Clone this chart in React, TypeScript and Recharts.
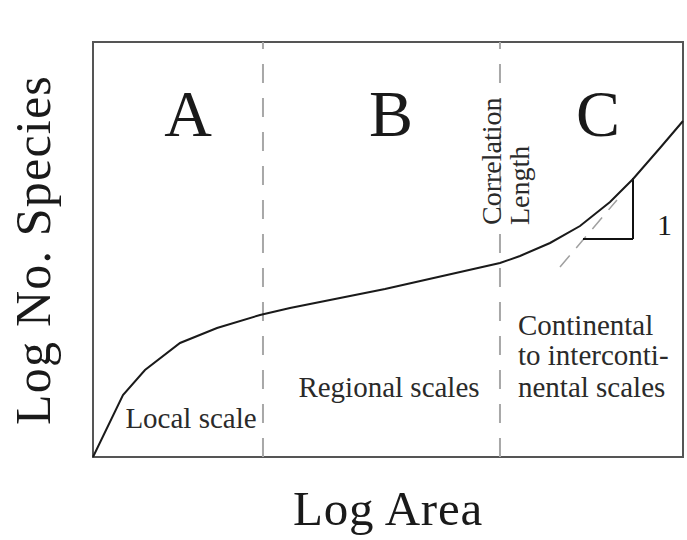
import React from 'react';
import { LineChart, Line, XAxis, YAxis, ReferenceLine, ReferenceArea, ReferenceDot } from 'recharts';

// Species–area curve (log area vs log number of species)
const logArea = [0, 0.508, 0.881, 1.475, 2.102, 2.831, 3.339, 4.949, 6.898, 7.237, 7.746, 8.254, 8.763, 9.153, 9.61, 10];
const logSpecies = [0, 1.494, 2.096, 2.747, 3.108, 3.422, 3.59, 4.048, 4.675, 4.843, 5.157, 5.566, 6.145, 6.699, 7.446, 8.096];

// Scale boundaries (dashed verticals)
const boundaries = [2.881, 6.898];

// Zone letters
const zoneLetters = ['A', 'B', 'C'];
const zoneLetterX = [1.61, 5.051, 8.559];
const zoneLetterY = 7.735;

// Scale descriptions
const scaleLabels = ['Local scale', 'Regional scales'];
const scaleLabelX = [1.661, 5.017];
const scaleLabelY = [0.699, 1.446];
const continentalLines = ['Continental', 'to interconti-', 'nental scales'];
const continentalX = 7.203;
const continentalY = [2.94, 2.217, 1.446];

// Correlation length annotation
const corrLines = ['Correlation', 'Length'];
const corrX = [6.915, 7.39];
const corrY = 5.59;

// Slope triangle and tangent
const triangle = [
  { x: 8.305, y: 5.253 },
  { x: 9.153, y: 5.253 },
  { x: 9.153, y: 6.723 },
];
const tangent = [
  { x: 7.915, y: 4.578 },
  { x: 8.881, y: 6.193 },
];
const slopeLabel = '1';
const slopeLabelPos = { x: 9.559, y: 5.349 };

const xTitle = 'Log Area';
const yTitle = 'Log No. Species';

const data = logArea.map((x, i) => ({ x, y: logSpecies[i] }));

const SERIF = "'Liberation Serif', 'Times New Roman', serif";

const txt = (
  label: string,
  size: number,
  anchor: 'start' | 'middle' | 'end',
  rotate = false,
  fill = '#1a1a1a',
  spacing = 0
) => (props: any) => (
  <text
    x={props.cx}
    y={props.cy}
    fontFamily={SERIF}
    fontSize={size}
    textAnchor={anchor}
    fill={fill}
    letterSpacing={spacing}
    transform={rotate ? `rotate(-90 ${props.cx} ${props.cy})` : undefined}
  >
    {label}
  </text>
);

export default function App() {
  return (
    <div style={{ position: 'absolute', left: 0, top: 0, background: '#fff' }}>
      <LineChart
        width={687}
        height={540}
        data={data}
        margin={{ left: 93, top: 42, right: 4, bottom: 83 }}
      >
        <XAxis type="number" dataKey="x" domain={[0, 10]} hide />
        <YAxis type="number" dataKey="y" domain={[0, 10]} hide />
        <ReferenceArea
          x1={0}
          x2={10}
          y1={0}
          y2={10}
          fill="none"
          stroke="#555"
          strokeWidth={2}
          ifOverflow="visible"
        />
        {boundaries.map((b, i) => (
          <ReferenceLine
            key={'b' + i}
            x={b}
            stroke="#a8a8a8"
            strokeWidth={2}
            strokeDasharray="19 15"
            ifOverflow="visible"
          />
        ))}
        <ReferenceLine
          segment={tangent}
          stroke="#a0a0a0"
          strokeWidth={1.5}
          strokeDasharray="15 10"
          ifOverflow="visible"
        />
        <ReferenceLine segment={[triangle[0], triangle[1]]} stroke="#111" strokeWidth={2} ifOverflow="visible" />
        <ReferenceLine segment={[triangle[1], triangle[2]]} stroke="#111" strokeWidth={2} ifOverflow="visible" />
        <Line
          type="linear"
          dataKey="y"
          stroke="#1a1a1a"
          strokeWidth={2}
          dot={false}
          isAnimationActive={false}
        />
        {zoneLetters.map((l, i) => (
          <ReferenceDot
            key={'z' + i}
            x={zoneLetterX[i]}
            y={zoneLetterY}
            r={0}
            ifOverflow="visible"
            shape={txt(l, 66, 'middle')}
          />
        ))}
        {scaleLabels.map((l, i) => (
          <ReferenceDot
            key={'s' + i}
            x={scaleLabelX[i]}
            y={scaleLabelY[i]}
            r={0}
            ifOverflow="visible"
            shape={txt(l, 29, 'middle', false, '#2a2a2a')}
          />
        ))}
        {continentalLines.map((l, i) => (
          <ReferenceDot
            key={'c' + i}
            x={continentalX}
            y={continentalY[i]}
            r={0}
            ifOverflow="visible"
            shape={txt(l, 29, 'start', false, '#2a2a2a')}
          />
        ))}
        {corrLines.map((l, i) => (
          <ReferenceDot
            key={'r' + i}
            x={corrX[i]}
            y={corrY}
            r={0}
            ifOverflow="visible"
            shape={txt(l, 28, 'start', true, '#2a2a2a')}
          />
        ))}
        <ReferenceDot
          x={slopeLabelPos.x}
          y={slopeLabelPos.y}
          r={0}
          ifOverflow="visible"
          shape={txt(slopeLabel, 30, 'start')}
        />
        <ReferenceDot x={5.0} y={-1.639} r={0} ifOverflow="visible" shape={txt(xTitle, 49, 'middle', false, '#1a1a1a', 0.8)} />
        <ReferenceDot x={-0.729} y={4.988} r={0} ifOverflow="visible" shape={txt(yTitle, 50, 'middle', true, '#1a1a1a', 1.2)} />
      </LineChart>
    </div>
  );
}
